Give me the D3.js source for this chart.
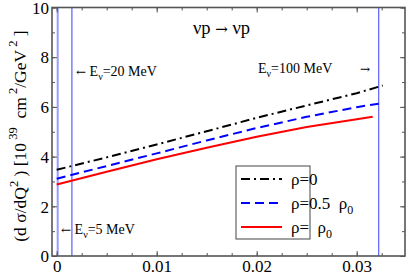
<!DOCTYPE html>
<html><head><meta charset="utf-8">
<script src="https://cdn.jsdelivr.net/npm/d3@7"></script>
<style>body{margin:0;background:#fff}svg{display:block}text{font-family:"Liberation Serif","Times New Roman",serif}</style>
</head><body>
<script>
// ---- data ----
const q2Rho0   = [0, 0.005, 0.01, 0.015, 0.02, 0.025, 0.03, 0.0326];
const valRho0  = [3.47, 3.97, 4.49, 5.02, 5.56, 6.06, 6.55, 6.86];
const q2Rho05  = [0, 0.005, 0.01, 0.015, 0.02, 0.025, 0.03, 0.0322];
const valRho05 = [3.11, 3.62, 4.13, 4.65, 5.15, 5.60, 5.99, 6.13];
const q2Rho1   = [0, 0.005, 0.01, 0.015, 0.02, 0.025, 0.03, 0.0316];
const valRho1  = [2.88, 3.39, 3.89, 4.36, 4.80, 5.19, 5.50, 5.60];
const energyLines = [0.0001, 0.00152, 0.0322];
const xTickLabels = ["0", "0.01", "0.02", "0.03"];
const xTickValues = [0, 0.01, 0.02, 0.03];
const yTickValues = [0, 2, 4, 6, 8, 10];

const W = 408, H = 274;
const L = 52, R = 405, T = 7.5, B = 256;
const FONT = '"Liberation Serif","Times New Roman",serif';
const ARROWFONT = '"DejaVu Serif","DejaVu Sans",serif';
const svg = d3.select("body").append("svg").attr("width", W).attr("height", H);
const x = d3.scaleLinear().domain([-0.00047, 0.03483]).range([L, R]);
const y = d3.scaleLinear().domain([0, 10]).range([B, T]);

// vertical energy lines
svg.selectAll("line.ev").data(energyLines).enter().append("line")
  .attr("x1", d => x(d)).attr("x2", d => x(d)).attr("y1", T).attr("y2", B)
  .attr("stroke", (d, i) => i === 0 ? "#9a9aff" : "#5c5cff")
  .attr("stroke-width", (d, i) => i === 0 ? 2 : 1.2);

// curves
const series = [
  {x: q2Rho1, y: valRho1, color: "#ff0000", dash: null},
  {x: q2Rho05, y: valRho05, color: "#0000ff", dash: "9,5"},
  {x: q2Rho0, y: valRho0, color: "#000000", dash: "9,4,2,4"}
];
const line = d3.line().x(d => x(d[0])).y(d => y(d[1]));
series.forEach(s => {
  svg.append("path").datum(s.x.map((v, i) => [v, s.y[i]]))
    .attr("d", line).attr("fill", "none").attr("stroke", s.color)
    .attr("stroke-width", 2).attr("stroke-dasharray", s.dash);
});

// axes with inward ticks on all sides
const tickColor = "#555";
const minorX = d3.range(0, 0.0341, 0.0025);
const minorY = d3.range(0, 11, 1);
const gb = svg.append("g").attr("transform", `translate(0,${B})`)
  .call(d3.axisBottom(x).tickValues(minorX).tickSize(-3).tickFormat(""));
const gb2 = svg.append("g").attr("transform", `translate(0,${B})`)
  .call(d3.axisBottom(x).tickValues(xTickValues).tickSize(-5).tickFormat((d, i) => xTickLabels[i]));
const gt = svg.append("g").attr("transform", `translate(0,${T})`)
  .call(d3.axisTop(x).tickValues(minorX).tickSize(-3).tickFormat(""));
const gt2 = svg.append("g").attr("transform", `translate(0,${T})`)
  .call(d3.axisTop(x).tickValues(xTickValues).tickSize(-5).tickFormat(""));
const gl = svg.append("g").attr("transform", `translate(${L},0)`)
  .call(d3.axisLeft(y).tickValues(minorY).tickSize(-3).tickFormat(""));
const gl2 = svg.append("g").attr("transform", `translate(${L},0)`)
  .call(d3.axisLeft(y).tickValues(yTickValues).tickSize(-5).tickFormat(d3.format("d")));
const gr = svg.append("g").attr("transform", `translate(${R},0)`)
  .call(d3.axisRight(y).tickValues(minorY).tickSize(-3).tickFormat(""));
const gr2 = svg.append("g").attr("transform", `translate(${R},0)`)
  .call(d3.axisRight(y).tickValues(yTickValues).tickSize(-5).tickFormat(""));
[gb, gb2, gt, gt2, gl, gl2, gr, gr2].forEach(g => {
  g.select(".domain").remove();
  g.selectAll(".tick line").attr("stroke", tickColor).attr("stroke-width", 1);
  g.selectAll(".tick text").attr("font-size", 17).attr("fill", "#000").style("font-family", FONT);
});
gb2.selectAll(".tick text").attr("y", 15.5).attr("dy", 0);
gl2.selectAll(".tick text").attr("x", -3).attr("dy", "0.34em");

// frame
svg.append("rect").attr("x", L).attr("y", T).attr("width", R - L).attr("height", B - T)
  .attr("fill", "none").attr("stroke", "#555").attr("stroke-width", 1.6);

// title
const title = svg.append("text").attr("x", 193).attr("y", 34).attr("font-size", 18.5)
  .style("font-family", FONT).style("white-space", "pre");
title.append("tspan").text("νp ");
title.append("tspan").style("font-family", ARROWFONT).attr("font-size", 15).text("→");
title.append("tspan").text(" νp");

// energy annotations
function eLabel(xp, yp, arrowLeft, val) {
  const t = svg.append("text").attr("x", xp).attr("y", yp).attr("font-size", 14)
    .style("font-family", FONT).style("white-space", "pre");
  if (arrowLeft) {
    t.append("tspan").style("font-family", ARROWFONT).attr("font-size", 12).text("←");
    t.append("tspan").text(" E");
  } else {
    t.append("tspan").text("E");
  }
  t.append("tspan").attr("font-size", 10).attr("dy", 4).text("ν");
  t.append("tspan").attr("dy", -4).text("=" + val);
}
eLabel(61, 234, true, "5 MeV");
eLabel(76, 76, true, "20 MeV");
eLabel(258, 72.5, false, "100 MeV");
svg.append("text").attr("x", 360).attr("y", 72.5).attr("font-size", 12).style("font-family", ARROWFONT).text("→");

// y label
const yl = svg.append("text").attr("transform", "translate(26,136) rotate(-90)")
  .attr("text-anchor", "middle").attr("font-size", 17.5).style("font-family", FONT).style("white-space", "pre");
yl.append("tspan").text("(d σ/dQ");
yl.append("tspan").attr("font-size", 12.5).attr("dy", -8).text("2");
yl.append("tspan").attr("dy", 8).text(" ) [10");
yl.append("tspan").attr("font-size", 12.5).attr("dy", -9).text(" 39");
yl.append("tspan").attr("dy", 9).text("  cm");
yl.append("tspan").attr("font-size", 12.5).attr("dy", -9).text(" 2");
yl.append("tspan").attr("dy", 9).text("/GeV");
yl.append("tspan").attr("font-size", 12.5).attr("dy", -9).text(" 2");
yl.append("tspan").attr("dy", 9).text(" ]");

// legend
svg.append("rect").attr("x", 236).attr("y", 166).attr("width", 74).attr("height", 73)
  .attr("fill", "#fff").attr("stroke", "#444").attr("stroke-width", 1);
const legRows = [
  {color: "#000", dash: "9,4,2,4", y: 179, parts: [["ρ=0", 0]]},
  {color: "#0000ff", dash: "9,5", y: 203, parts: [["ρ=0.5  ρ", 0], ["0", 1]]},
  {color: "#ff0000", dash: null, y: 227, parts: [["ρ=  ρ", 0], ["0", 1]]}
];
legRows.forEach(r => {
  svg.append("line").attr("x1", 241).attr("x2", 282).attr("y1", r.y).attr("y2", r.y)
    .attr("stroke", r.color).attr("stroke-width", 2).attr("stroke-dasharray", r.dash);
  const t = svg.append("text").attr("x", 291).attr("y", r.y + 6).attr("font-size", 17)
    .style("font-family", FONT).style("white-space", "pre");
  r.parts.forEach(p => {
    if (p[1]) t.append("tspan").attr("font-size", 12).attr("dy", 5).text(p[0]);
    else t.append("tspan").text(p[0]);
  });
});
</script>
</body></html>
